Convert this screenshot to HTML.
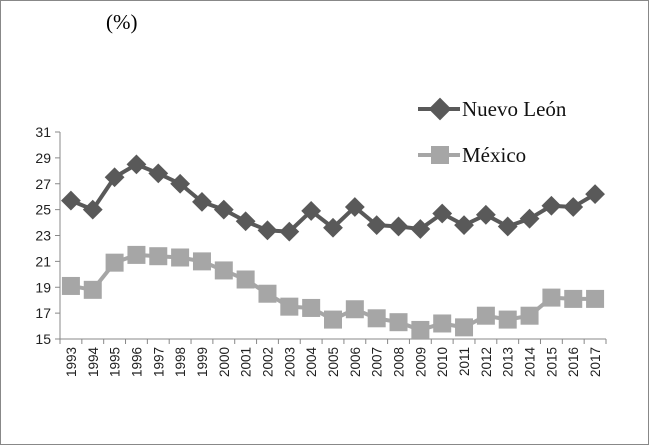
<!DOCTYPE html>
<html><head><meta charset="utf-8"><style>
body{margin:0;background:#fff}
svg{display:block}
</style></head><body>
<svg width="649" height="445" xmlns="http://www.w3.org/2000/svg">
<rect x="0.5" y="0.5" width="648" height="444" fill="#fff" stroke="#888"/>
<text x="106" y="29" font-family="Liberation Serif, serif" font-size="21">(%)</text>
<g id="axes"></g>
<g id="series"></g>
<g>
<g>
<line x1="418" y1="109" x2="460" y2="109" stroke="#595959" stroke-width="4"/>
<rect x="432" y="101" width="16" height="16" fill="#595959" transform="rotate(45 440 109)"/>
<text x="462" y="116" font-family="Liberation Serif, serif" font-size="21" fill="#111">Nuevo León</text>
</g>
<g>
<line x1="418" y1="155" x2="460" y2="155" stroke="#a6a6a6" stroke-width="4"/>
<rect x="431" y="146" width="18" height="18" fill="#a6a6a6"/>
<text x="462" y="162" font-family="Liberation Serif, serif" font-size="21" fill="#111">México</text>
</g>
</g>
</svg>
<script>
const years=[1993,1994,1995,1996,1997,1998,1999,2000,2001,2002,2003,2004,2005,2006,2007,2008,2009,2010,2011,2012,2013,2014,2015,2016,2017];
const nuevoLeon=[25.7,25.0,27.5,28.5,27.8,27.0,25.6,25.0,24.1,23.4,23.3,24.9,23.6,25.2,23.8,23.7,23.5,24.7,23.8,24.6,23.7,24.3,25.3,25.2,26.2];
const mexico=[19.1,18.8,20.9,21.5,21.4,21.3,21.0,20.3,19.6,18.5,17.5,17.4,16.5,17.3,16.6,16.3,15.7,16.2,15.9,16.8,16.5,16.8,18.2,18.1,18.1];
const yTicks=[15,17,19,21,23,25,27,29,31];
const NS='http://www.w3.org/2000/svg';
const X0=60,X1=606,Y0=339,Y1=132,YMIN=15,YMAX=31;
const step=(X1-X0)/years.length;
function xs(i){return X0+step*(i+0.5);}
function ys(v){return Y0-(v-YMIN)/(YMAX-YMIN)*(Y0-Y1);}
function mk(tag,attrs,parent){const e=document.createElementNS(NS,tag);for(const k in attrs)e.setAttribute(k,attrs[k]);parent.appendChild(e);return e;}
const ax=document.getElementById('axes');
const yl=mk('line',{x1:X0,y1:Y1,x2:X0,y2:Y0,stroke:'#888','stroke-width':1},ax);


const xl=mk('line',{x1:X0,y1:Y0,x2:X1,y2:Y0,stroke:'#888','stroke-width':1},ax);


yTicks.forEach(t=>{
  const y=ys(t);
  mk('line',{x1:X0-5,y1:y,x2:X0,y2:y,stroke:'#888'},ax);
  const tx=mk('text',{x:X0-9,y:y+5,'text-anchor':'end','font-family':'Liberation Sans, sans-serif','font-size':14,fill:'#222'},ax);
  tx.textContent=t;
  
  
});
for(let i=0;i<=years.length;i++){const x=X0+step*i;mk('line',{x1:x,y1:Y0,x2:x,y2:Y0+5,stroke:'#888'},ax);}
years.forEach((yr,i)=>{
  const x=xs(i);
  const tx=mk('text',{x:0,y:0,transform:`translate(${x+5},${Y0+8}) rotate(-90)`,'text-anchor':'end','font-family':'Liberation Sans, sans-serif','font-size':13.5,fill:'#222'},ax);
  tx.textContent=yr;
  
  
});
const sg=document.getElementById('series');
function drawSeries(vals,color,name,shape){
  const pts=vals.map((v,i)=>xs(i)+','+ys(v)).join(' ');
  const pl=mk('polyline',{points:pts,fill:'none',stroke:color,'stroke-width':4,'stroke-linejoin':'round'},sg);
  
  
  vals.forEach((v,i)=>{
    const x=xs(i),y=ys(v);let m;
    if(shape==='diamond'){m=mk('rect',{x:x-7,y:y-7,width:14,height:14,fill:color,transform:`rotate(45 ${x} ${y})`},sg);}
    else{m=mk('rect',{x:x-9,y:y-9,width:18,height:18,fill:color},sg);}
    
    
  });
}
drawSeries(mexico,'#a6a6a6','mexico','square');
drawSeries(nuevoLeon,'#595959','nuevo-leon','diamond');
</script>
</body></html>
